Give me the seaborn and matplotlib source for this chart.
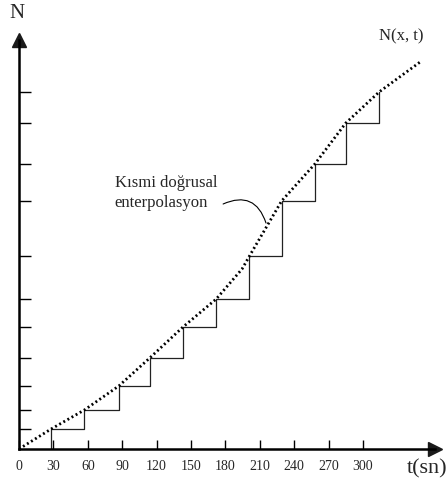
import numpy as np
import pandas as pd
import seaborn as sns
import matplotlib.pyplot as plt

# time ticks (s) shown on the t axis
t_ticks = [0, 30, 60, 90, 120, 150, 180, 210, 240, 270, 300]

# staircase: sampling times and N levels (arbitrary N units)
step_t = [28, 57, 87, 114, 143, 172, 201, 229, 258, 285, 314]
step_n = [20, 39, 63, 91, 122, 150, 193, 248, 285, 326, 357]

# dotted N(x, t) curve through the staircase corners
curve_t = [0, 28, 57, 87, 114, 143, 172, 194.5, 201, 229, 258, 285, 314, 351]
curve_n = [0, 20, 39, 63, 91, 122, 150, 180, 193, 248, 285, 326, 357, 388]

sns.set_theme(style="white")
plt.rcParams['font.family'] = ['Liberation Serif', 'DejaVu Serif']

W, H = 448, 487
fig = plt.figure(figsize=(W / 100, H / 100), dpi=100)
ax = fig.add_axes([19 / W, 38 / H, 416 / W, 409 / H])
px_per_s = 1.1467
ax.set_xlim(0, 416 / px_per_s)
ax.set_ylim(0, 409)

# staircase (lower step approximation)
stair_x = [step_t[0]] + step_t
stair_y = [0] + step_n
ax.step(stair_x, stair_y, where='post', color='#222222', lw=0.9)

# partial linear interpolation curve
curve = pd.DataFrame({'t': curve_t, 'N': curve_n})
sns.lineplot(data=curve, x='t', y='N', ax=ax, sort=False, estimator=None,
             color='black', lw=2.0, linestyle=(0, (0.7, 1.0)))

# axes with arrows
for side in ['top', 'right']:
    ax.spines[side].set_visible(False)
for side in ['left', 'bottom']:
    ax.spines[side].set_linewidth(1.8)
    ax.spines[side].set_color('black')
ax.plot(1, 0, '>k', ms=10, transform=ax.get_yaxis_transform(), clip_on=False)
ax.plot(0, 1, '^k', ms=10, transform=ax.get_xaxis_transform(), clip_on=False)

ax.set_xticks(t_ticks)
ax.set_xticklabels([str(t) for t in t_ticks], fontsize=10)
ax.set_yticks(step_n)
ax.set_yticklabels([])
ax.tick_params(axis='x', direction='in', length=6.5, width=1.0, color='black', pad=8, bottom=True)
ax.tick_params(axis='y', direction='in', length=8.6, width=1.0, color='black', left=True)
ax.set_xlabel('')
ax.set_ylabel('')

# annotation for the interpolation
ax.text(83.5, 256, 'Kısmi doğrusal\nenterpolasyon', ha='left', va='center',
        fontsize=12, linespacing=1.3)
ax.annotate('', xy=(215.4, 226), xytext=(178, 245),
            arrowprops=dict(arrowstyle='-', color='black', lw=0.8,
                            connectionstyle='arc3,rad=-0.55',
                            shrinkA=0, shrinkB=0))

fig.text(379 / W, 1 - 36 / H, 'N(x, t)', fontsize=12, ha='left', va='center')
fig.text(17 / W, 1 - 14 / H, 'N', fontsize=15, ha='center', va='center')
fig.text(427 / W, 1 - 469 / H, 't(sn)', fontsize=16, ha='center', va='center')

fig.savefig('out.png', dpi=100)
